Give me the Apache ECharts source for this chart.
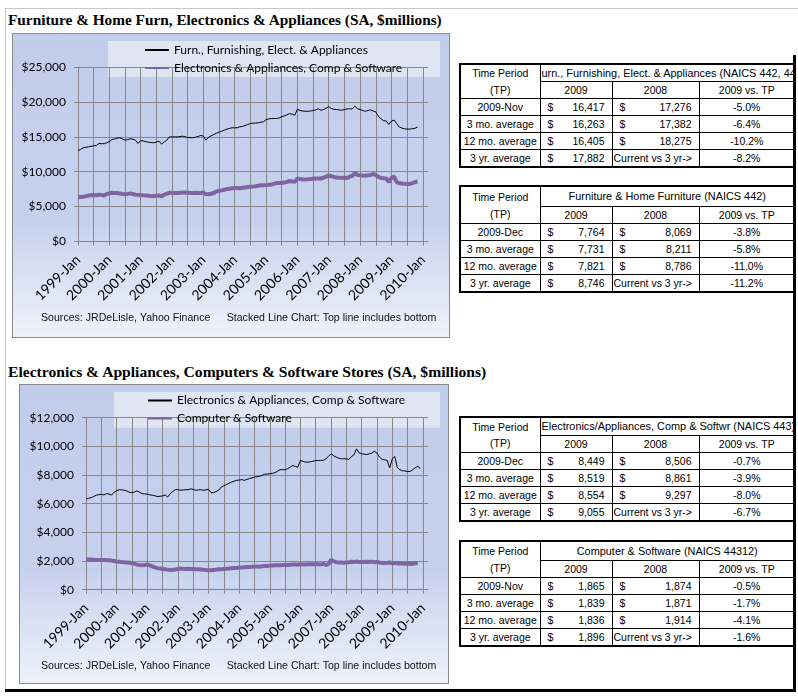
<!DOCTYPE html>
<html>
<head>
<meta charset="utf-8">
<script src="https://cdn.jsdelivr.net/npm/echarts@6/dist/echarts.min.js"></script>
<style>
body { margin: 0; background: #fff; }
#page { position: relative; width: 798px; height: 700px; overflow: hidden; font-family: "Liberation Sans", Arial, sans-serif; }
.frame { position: absolute; left: 5px; top: 8px; width: 792px; height: 684px; border-left: 1px solid #c8c8c8; border-top: 1px solid #c8c8c8; }
.rline { position: absolute; left: 793px; top: 55px; width: 3px; height: 637px; background: #000; z-index: 5; }
.bline { position: absolute; left: 5px; top: 689px; width: 791px; height: 3px; background: #000; z-index: 5; }
.ttl { position: absolute; left: 8px; font: bold 15.3px/16px "Liberation Serif", "Times New Roman", serif; white-space: nowrap; color: #000; }
.box { position: absolute; border: 1px solid #8a8a8a; box-sizing: border-box;
  background: linear-gradient(to bottom, #c2cdec 0%, #c6d1ee 62%, #d9e1f3 80%, #eef2fa 100%); }
.box > div { width: 100%; height: 100%; }
table.tp { position: absolute; left: 459px; width: 335px; border-collapse: collapse; table-layout: fixed; font-size: 10.5px; border: 2px solid #000; color: #000; }
table.tp td { border: 1px solid #000; padding: 0; text-align: center; white-space: nowrap; overflow: hidden; height: 16px; }
table.tp td.nb { border-bottom: none; }
table.tp td.nt { border-top: none; }
table.tp td.hd { text-align: left; padding-left: 1px; font-size: 10.9px; }
table.tp td.hc { text-align: center; font-size: 10.9px; }
.mv { display: flex; justify-content: space-between; padding: 0 7px 0 7px; }
.cur { text-align: left; padding-left: 1px; }
</style>
</head>
<body>
<div id="page">
  <div class="frame"></div>
  <div class="ttl" style="top:12px">Furniture &amp; Home Furn, Electronics &amp; Appliances (SA, $millions)</div>
  <div class="box" style="left:12px;top:33px;width:438px;height:305px"><div id="c1"></div></div>
  <div class="ttl" style="top:364px;font-size:15.6px">Electronics &amp; Appliances, Computers &amp; Software Stores (SA, $millions)</div>
  <div class="box" style="left:19px;top:384px;width:430px;height:300px"><div id="c2"></div></div>
  <div id="tables"></div>
  <div class="rline"></div>
  <div class="bline"></div>
</div>
<script>
// categories: monthly, 1999-Jan .. 2010-Mar (the two extra months only pad the plot)
var monNames = ["Jan","Feb","Mar","Apr","May","Jun","Jul","Aug","Sep","Oct","Nov","Dec"];
var months = [];
for (var y = 1999; y <= 2010; y++) {
  for (var m = 0; m < 12; m++) {
    if (y === 2010 && m > 2) break;
    months.push(y + "-" + monNames[m]);
  }
}

// Furn., Furnishing, Elect. & Appliances (total), 1999-Jan .. 2009-Nov
var totalSales = [
  13040, 13200, 13430, 13500, 13570, 13650, 13700, 13760, 14040, 14020, 14000, 14150,
  14300, 14610, 14700, 14800, 14860, 14700, 14520, 14600, 14710, 14650, 14520, 14050,
  14450, 14400, 14300, 14230, 14180, 14140, 14250, 14380, 13950, 14250, 14520, 14990,
  14990, 14980, 14990, 15030, 15090, 15000, 14900, 14880, 14860, 14950, 15050, 15190,
  15100, 14520, 14950, 15150, 15330, 15500, 15660, 15800, 15950, 16100, 16200, 16290,
  16290, 16300, 16430, 16500, 16620, 16750, 16900, 16950, 16980, 17000, 17100, 17140,
  17470, 17550, 17620, 17620, 17620, 17700, 17860, 18000, 18150, 18330, 18250, 18100,
  18950, 18760, 18700, 18650, 18660, 18700, 18760, 18850, 19000, 18810, 18900, 19100,
  19330, 19040, 18950, 18900, 18850, 18810, 18900, 19000, 19000, 19000, 19380, 19040,
  18900, 18760, 18660, 18760, 18860, 18700, 18570, 17950, 17570, 17300, 17276, 16760,
  17250, 17400, 16900, 16400, 16250, 16150, 16100, 16100, 16150, 16220, 16417
];

// Electronics & Appliances, Comp & Software, 1999-Jan .. 2009-Dec
var elecSales = [
  6330, 6380, 6420, 6500, 6590, 6630, 6660, 6610, 6700, 6680, 6600, 6800,
  6900, 6980, 6960, 6940, 6890, 6800, 6770, 6820, 6890, 6800, 6700, 6680,
  6660, 6620, 6590, 6550, 6500, 6520, 6540, 6610, 6470, 6700, 6850, 6980,
  6980, 6940, 6950, 6980, 6980, 7030, 7000, 6940, 6960, 6980, 6940, 6960,
  7010, 6770, 6770, 6850, 6940, 7170, 7250, 7330, 7420, 7510, 7570, 7630,
  7650, 7680, 7630, 7690, 7750, 7800, 7860, 7880, 7910, 7980, 8050, 8070,
  8090, 8120, 8160, 8260, 8370, 8370, 8370, 8440, 8550, 8670, 8600, 8550,
  9020, 8950, 8900, 8900, 8920, 8970, 9000, 9020, 9020, 9020, 9130, 9300,
  9480, 9350, 9250, 9180, 9130, 9130, 9130, 9090, 9290, 9410, 9830, 9550,
  9480, 9460, 9430, 9480, 9530, 9660, 9530, 9250, 9100, 9060, 9020, 8506,
  9130, 9290, 8510, 8370, 8300, 8280, 8250, 8250, 8370, 8510, 8600, 8449
];

// Computer & Software, 1999-Jan .. 2009-Nov
var compSales = [
  2120, 2110, 2100, 2090, 2080, 2080, 2080, 2070, 2060, 2050, 2030, 2000,
  1970, 1950, 1930, 1920, 1900, 1880, 1850, 1800, 1750, 1720, 1700, 1720,
  1750, 1700, 1620, 1560, 1500, 1480, 1460, 1420, 1400, 1380, 1390, 1400,
  1450, 1480, 1470, 1450, 1460, 1450, 1440, 1430, 1420, 1410, 1390, 1380,
  1350, 1360, 1380, 1400, 1420, 1430, 1450, 1460, 1480, 1500, 1510, 1520,
  1540, 1550, 1560, 1580, 1590, 1600, 1610, 1620, 1600, 1630, 1650, 1660,
  1680, 1690, 1700, 1700, 1710, 1720, 1730, 1730, 1740, 1750, 1760, 1740,
  1770, 1750, 1760, 1770, 1780, 1770, 1790, 1780, 1760, 1800, 1720, 1780,
  2080, 1980, 1920, 1900, 1890, 1880, 1900, 1920, 1950, 1930, 1960, 1940,
  1930, 1940, 1950, 1930, 1960, 1920, 1940, 1900, 1870, 1870, 1874, 1900,
  1850, 1870, 1840, 1830, 1820, 1810, 1820, 1810, 1800, 1850, 1865
];

// summary tables: [row label, 2009, 2008, 2009 vs TP]
var tables = [
  { top: 63, title: "urn., Furnishing, Elect. & Appliances (NAICS 442, 443)", align: "hd", h1: 17,
    rows: [["2009-Nov", "16,417", "17,276", "-5.0%"], ["3 mo. average", "16,263", "17,382", "-6.4%"],
           ["12 mo. average", "16,405", "18,275", "-10.2%"], ["3 yr. average", "17,882", null, "-8.2%"]] },
  { top: 185, title: "Furniture & Home Furniture (NAICS 442)", align: "hc", h1: 20,
    rows: [["2009-Dec", "7,764", "8,069", "-3.8%"], ["3 mo. average", "7,731", "8,211", "-5.8%"],
           ["12 mo. average", "7,821", "8,786", "-11.0%"], ["3 yr. average", "8,746", null, "-11.2%"]] },
  { top: 416, title: "Electronics/Appliances, Comp & Softwr (NAICS 443)", align: "hd", h1: 18,
    rows: [["2009-Dec", "8,449", "8,506", "-0.7%"], ["3 mo. average", "8,519", "8,861", "-3.9%"],
           ["12 mo. average", "8,554", "9,297", "-8.0%"], ["3 yr. average", "9,055", null, "-6.7%"]] },
  { top: 540, title: "Computer & Software (NAICS 44312)", align: "hc", h1: 19,
    rows: [["2009-Nov", "1,865", "1,874", "-0.5%"], ["3 mo. average", "1,839", "1,871", "-1.7%"],
           ["12 mo. average", "1,836", "1,914", "-4.1%"], ["3 yr. average", "1,896", null, "-1.6%"]] }
];
var colHeads = ["2009", "2008", "2009 vs. TP"];
var curText = "Current vs 3 yr->";

function money(v) {
  return '<div class="mv"><span>$</span><span>' + v + '</span></div>';
}

var html = "";
tables.forEach(function (t) {
  var s = '<table class="tp" style="top:' + t.top + 'px">' +
    '<colgroup><col style="width:80px"><col style="width:72px"><col style="width:87px"><col style="width:96px"></colgroup>';
  s += '<tr style="height:' + t.h1 + 'px"><td class="nb">Time Period</td><td colspan="3" class="' + t.align + '">' + t.title + '</td></tr>';
  s += '<tr><td class="nt">(TP)</td><td>' + colHeads[0] + '</td><td>' + colHeads[1] + '</td><td>' + colHeads[2] + '</td></tr>';
  t.rows.forEach(function (r) {
    s += '<tr><td>' + r[0] + '</td><td>' + money(r[1]) + '</td><td>' +
      (r[2] === null ? '<div class="cur">' + curText + '</div>' : money(r[2])) + '</td><td>' + r[3] + '</td></tr>';
  });
  s += '</table>';
  html += s;
});
document.getElementById("tables").innerHTML = html;

var gridColor = "#878787";
var purple = "#8064a2";

function chartOption(cfg) {
  return {
    animation: false,
    grid: cfg.grid,
    legend: {
      orient: "vertical",
      left: cfg.legendLeft,
      top: cfg.legendTop,
      padding: 0,
      itemWidth: 24,
      itemHeight: 14,
      itemGap: 6,
      itemStyle: { opacity: 0 },
      textStyle: { fontFamily: "Lato", fontSize: 12, color: "#000" },
      data: [cfg.names[0], cfg.names[1]]
    },
    graphic: [
      { type: "rect", z: -1, shape: cfg.legendBox, style: { fill: "#dfe5f1" } },
      { type: "text", left: cfg.footX[0], top: cfg.footY,
        style: { text: "Sources: JRDeLisle, Yahoo Finance", font: "10.6px 'Liberation Sans'", fill: "#111" } },
      { type: "text", left: cfg.footX[1], top: cfg.footY,
        style: { text: "Stacked Line Chart: Top line includes bottom", font: "10.6px 'Liberation Sans'", fill: "#111" } }
    ],
    xAxis: {
      type: "category",
      data: months,
      boundaryGap: false,
      axisLine: { lineStyle: { color: gridColor } },
      axisTick: { show: true, interval: 5, length: 4, lineStyle: { color: gridColor } },
      axisLabel: { interval: 11, rotate: 45, margin: 16, fontFamily: "Lato", fontSize: 14, color: "#000" },
      splitLine: { show: true, interval: 5, lineStyle: { color: gridColor } }
    },
    yAxis: {
      type: "value",
      min: 0,
      max: cfg.yMax,
      interval: cfg.yStep,
      axisLine: { show: true, lineStyle: { color: gridColor } },
      axisTick: { show: true, length: 4, lineStyle: { color: gridColor } },
      axisLabel: {
        margin: 12, fontFamily: "Lato", fontSize: 12, color: "#000",
        formatter: function (v) { return "$" + v.toLocaleString("en-US"); }
      },
      splitLine: { lineStyle: { color: gridColor } }
    },
    series: [
      { name: cfg.names[1], type: "line", data: cfg.bottom, symbol: "none",
        lineStyle: { color: purple, width: 4 }, itemStyle: { color: purple } },
      { name: cfg.names[0], type: "line", data: cfg.top, symbol: "none",
        lineStyle: { color: "#000", width: 1 }, itemStyle: { color: "#000" } }
    ]
  };
}

var chart1 = echarts.init(document.getElementById("c1"));
chart1.setOption(chartOption({
  grid: { left: 65, right: 21, top: 33, bottom: 95.5 },
  names: ["Furn., Furnishing, Elect. & Appliances", "Electronics & Appliances, Comp & Software"],
  top: totalSales,
  bottom: elecSales.slice(0, totalSales.length),
  yMax: 25000, yStep: 5000,
  legendLeft: 131, legendTop: 10,
  legendBox: { x: 95, y: 7, width: 332, height: 36 },
  footX: [28, 213.7], footY: 279
}));

var chart2 = echarts.init(document.getElementById("c2"));
chart2.setOption(chartOption({
  grid: { left: 66, right: 20, top: 32.7, bottom: 93.3 },
  names: ["Electronics & Appliances, Comp & Software", "Computer & Software"],
  top: elecSales,
  bottom: compSales,
  yMax: 12000, yStep: 2000,
  legendLeft: 127, legendTop: 9.5,
  legendBox: { x: 94, y: 6.7, width: 326, height: 36 },
  footX: [21, 206.7], footY: 276
}));
</script>
</body>
</html>
